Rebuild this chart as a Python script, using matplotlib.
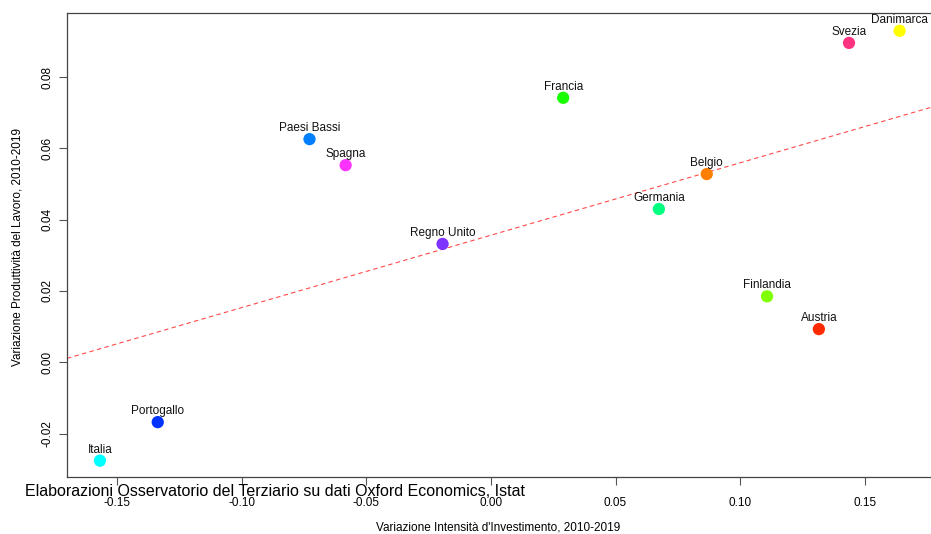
import numpy as np
import matplotlib
matplotlib.use("Agg")
import matplotlib.pyplot as plt

plt.rcParams['font.family'] = ['Liberation Sans', 'DejaVu Sans']

# paesi in ordine alfabetico
paesi = ['Austria', 'Belgio', 'Danimarca', 'Finlandia', 'Francia', 'Germania',
         'Italia', 'Paesi Bassi', 'Portogallo', 'Regno Unito', 'Spagna', 'Svezia']
invest = [0.1316, 0.0866, 0.1640, 0.1108, 0.0290, 0.0674,
          -0.1569, -0.0728, -0.1337, -0.0194, -0.0583, 0.1437]
produtt = [0.0093, 0.0528, 0.0930, 0.0185, 0.0742, 0.0430,
           -0.0276, 0.0626, -0.0168, 0.0332, 0.0553, 0.0896]
colori = ['#ff2a00', '#ff7f00', '#ffff00', '#80ff00', '#1aff00', '#00ff80',
          '#00ffff', '#0080ff', '#0033ff', '#7f33ff', '#ff33ff', '#ff3380']

xticks = [-0.15, -0.10, -0.05, 0.00, 0.05, 0.10, 0.15]
yticks = [-0.02, 0.00, 0.02, 0.04, 0.06, 0.08]

fig = plt.figure(figsize=(9.31, 5.34), dpi=100)
ax = fig.add_axes([0.072, 0.1067, 0.928, 0.869])

ax.scatter(invest, produtt, s=78, c=colori, zorder=3, linewidths=0)
for p, x, y in zip(paesi, invest, produtt):
    ax.annotate(p, (x, y), xytext=(0, 8), textcoords='offset points',
                ha='center', va='center', fontsize=8.5, color='#111111')

# retta di regressione
b, a = np.polyfit(invest, produtt, 1)
ax.axline((0, a), slope=b, color='#ff4a4a', lw=0.8, ls=(0, (4, 3)), zorder=2)

ax.set_xlim(-0.1701, 0.1766)
ax.set_ylim(-0.0322, 0.098)
ax.set_xticks(xticks)
ax.set_xticklabels(['%.2f' % v for v in xticks])
ax.set_yticks(yticks)
ax.set_yticklabels(['%.2f' % v for v in yticks], rotation=90, va='center')
ax.tick_params(length=6, width=0.8, color='#555555', labelsize=8.5, pad=8.5)
ax.tick_params(axis='y', pad=4)
for s in ['left', 'top', 'bottom']:
    ax.spines[s].set_color('#444444')
    ax.spines[s].set_linewidth(0.9)
ax.spines['right'].set_visible(False)

fig.text(0.5355, 1 - 528 / 534, "Variazione Intensità d'Investimento, 2010-2019",
         ha='center', va='center', fontsize=8.5)
fig.text(18 / 931, 1 - 247 / 534, 'Variazione Produttività del Lavoro, 2010-2019',
         ha='center', va='center', rotation=90, fontsize=8.5)
fig.text(25 / 931, 1 - 491.7 / 534,
         'Elaborazioni Osservatorio del Terziario su dati Oxford Economics, Istat',
         ha='left', va='center', fontsize=11.5, zorder=5)

fig.savefig('out.png', dpi=100)
